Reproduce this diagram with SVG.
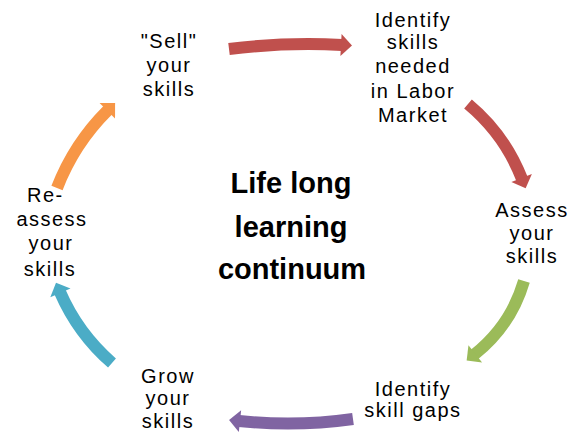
<svg xmlns="http://www.w3.org/2000/svg" width="571" height="436" viewBox="0 0 571 436">
<defs>
<style>
.lbl{font-family:"Liberation Sans",Arial,sans-serif;font-size:20px;letter-spacing:1.5px;fill:#000;text-anchor:middle}
.ttl{font-family:"Liberation Sans",Arial,sans-serif;font-size:29px;font-weight:bold;fill:#000;text-anchor:middle}
.arc{fill:none;stroke-width:12;stroke-linecap:butt}
</style>
<marker id="hRed" markerUnits="userSpaceOnUse" markerWidth="14" markerHeight="24" refX="1" refY="12" orient="auto" overflow="visible"><path d="M0,1 L11,12 L0,23 z" fill="#C0504D"/></marker>
<marker id="hGreen" markerUnits="userSpaceOnUse" markerWidth="14" markerHeight="24" refX="1" refY="12" orient="auto" overflow="visible"><path d="M0,1 L11,12 L0,23 z" fill="#9BBB59"/></marker>
<marker id="hPurple" markerUnits="userSpaceOnUse" markerWidth="14" markerHeight="24" refX="1" refY="12" orient="auto" overflow="visible"><path d="M0,1 L11,12 L0,23 z" fill="#8064A2"/></marker>
<marker id="hTeal" markerUnits="userSpaceOnUse" markerWidth="14" markerHeight="24" refX="1" refY="12" orient="auto" overflow="visible"><path d="M0,1 L11,12 L0,23 z" fill="#4BACC6"/></marker>
<marker id="hOrange" markerUnits="userSpaceOnUse" markerWidth="14" markerHeight="24" refX="1" refY="12" orient="auto" overflow="visible"><path d="M0,1 L11,12 L0,23 z" fill="#F79646"/></marker>
</defs>
<rect width="571" height="436" fill="#fff"/>
<g id="connectors">
<path class="arc" stroke="#C0504D" marker-end="url(#hRed)" d="M229,49 Q285.5,42 342,45"/>
<path class="arc" stroke="#C0504D" marker-end="url(#hRed)" d="M468,104 Q504.7,134.5 522,179"/>
<path class="arc" stroke="#9BBB59" marker-end="url(#hGreen)" d="M524,281 Q510.9,325.5 474.5,354.4"/>
<path class="arc" stroke="#8064A2" marker-end="url(#hPurple)" d="M353,419 Q296,427 239,421"/>
<path class="arc" stroke="#4BACC6" marker-end="url(#hTeal)" d="M112,363 Q78,333.5 60,292"/>
<path class="arc" stroke="#F79646" marker-end="url(#hOrange)" d="M57,188 Q74.1,143.6 108,110"/>
</g>
<g id="center">
<text class="ttl" x="291" y="193">Life long</text>
<text class="ttl" x="291" y="237">learning</text>
<text class="ttl" x="292" y="279">continuum</text>
</g>
<g id="sell">
<text class="lbl" x="169" y="48">"Sell"</text>
<text class="lbl" x="169" y="72">your</text>
<text class="lbl" x="169" y="96">skills</text>
</g>
<g id="identify-needed">
<text class="lbl" x="413" y="27">Identify</text>
<text class="lbl" x="413" y="49">skills</text>
<text class="lbl" x="413" y="73">needed</text>
<text class="lbl" x="413" y="98">in Labor</text>
<text class="lbl" x="413" y="122">Market</text>
</g>
<g id="assess">
<text class="lbl" x="532" y="217">Assess</text>
<text class="lbl" x="532" y="240">your</text>
<text class="lbl" x="532" y="263">skills</text>
</g>
<g id="identify-gaps">
<text class="lbl" x="413" y="396">Identify</text>
<text class="lbl" x="413" y="417">skill gaps</text>
</g>
<g id="grow">
<text class="lbl" x="168" y="383">Grow</text>
<text class="lbl" x="168" y="405">your</text>
<text class="lbl" x="168" y="428">skills</text>
</g>
<g id="reassess">
<text class="lbl" x="27" y="202" style="text-anchor:start">Re-</text>
<text class="lbl" x="52" y="226">assess</text>
<text class="lbl" x="51" y="250">your</text>
<text class="lbl" x="50" y="276">skills</text>
</g>
</svg>
